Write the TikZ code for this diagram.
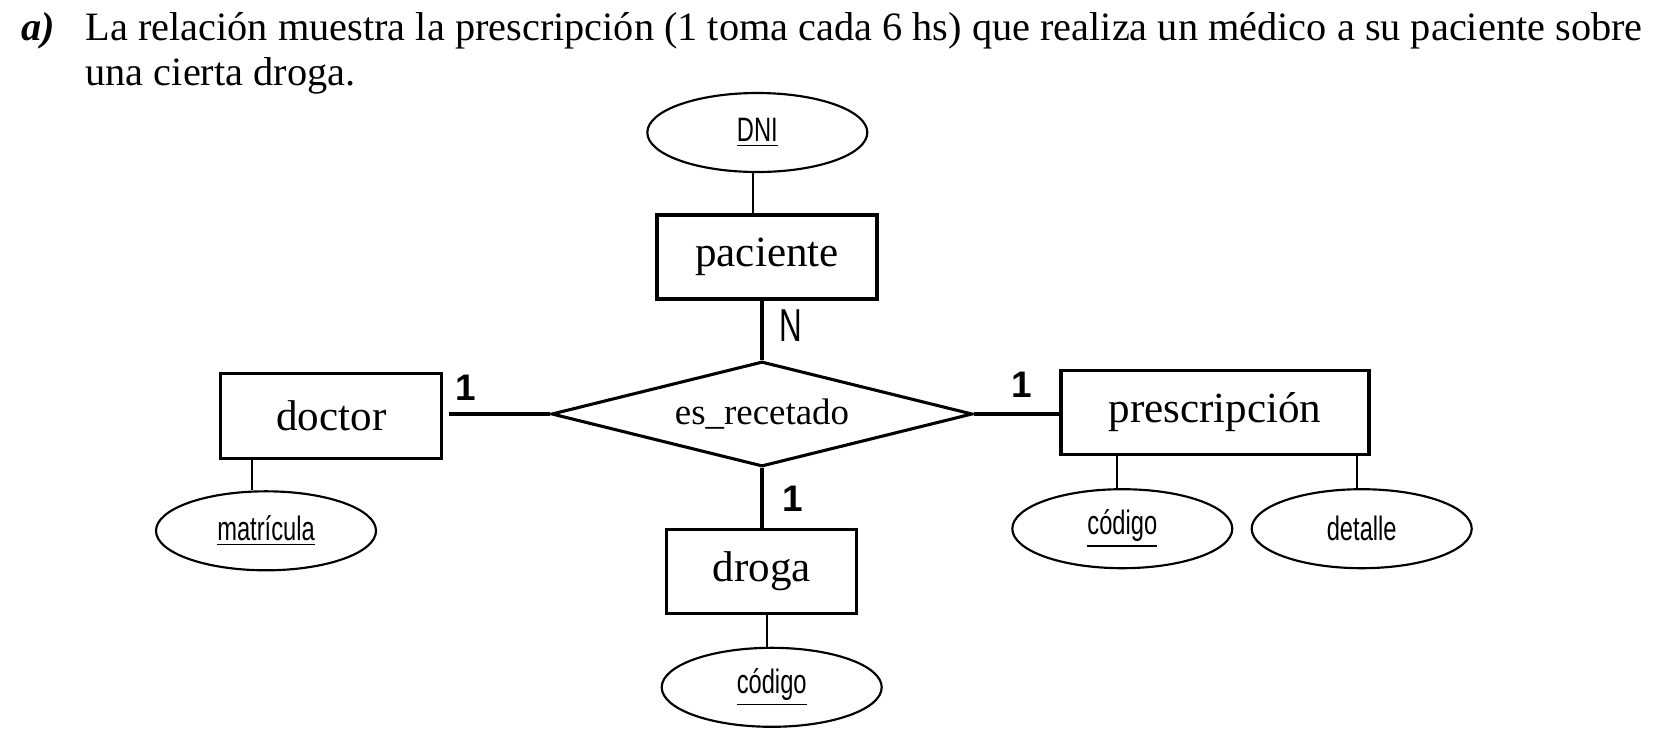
\documentclass[tikz,border=0pt]{standalone}
\usepackage{fontspec}
\usepackage{graphicx}
\setmainfont{Liberation Serif}
\newfontfamily\arialf{Liberation Sans}
\usetikzlibrary{shapes.geometric,calc}
\newdimen\pxu
\pxu=0.325pt
\newcommand\attrtxt[1]{\scalebox{0.7}[1]{#1}}
\begin{document}
\begin{tikzpicture}[x=0.325pt,y=-0.325pt,
  entity/.style={draw,line width=1pt,rectangle,inner sep=0pt,minimum height=84\pxu,font=\fontsize{14}{16}\selectfont},
  attr/.style={draw,line width=0.7pt,ellipse,inner sep=0pt,minimum width=220\pxu,minimum height=79\pxu,font=\arialf\fontsize{11}{13}\selectfont},
  relbox/.style={draw,line width=1pt,diamond,aspect=4,inner sep=0pt,minimum width=421\pxu,minimum height=105\pxu,font=\fontsize{12}{14}\selectfont},
  card/.style={inner sep=0pt,font=\arialf\bfseries\fontsize{12}{14}\selectfont},
  titletxt/.style={anchor=base west,inner sep=0pt,font=\fontsize{13.1}{15}\selectfont},
  rline/.style={line width=1pt},
  aline/.style={line width=0.65pt}]
\useasboundingbox[fill=white] (0,0) rectangle (1669,748);

% title
\node[titletxt,font=\bfseries\itshape\fontsize{13.1}{15}\selectfont] (lbl) at (21,41) {a)};
\node[titletxt] (t1) at (85,41) {La relación muestra la prescripción (1 toma cada 6 hs) que realiza un médico a su paciente sobre};
\node[titletxt] (t2) at (85,85) {una cierta droga.};

% entities
\node[entity,minimum width=220\pxu] (pac) at (767,257) {paciente};
\node[entity,minimum width=221\pxu,minimum height=85\pxu] (doc) at (331.4,415.8) {doctor};
\node[entity,minimum width=308\pxu] (pre) at (1215,412.2) {prescripción};
\node[entity,minimum width=190\pxu] (dro) at (761.7,571.3) {droga};

% relationship
\node[relbox] (r) at (762,414) {es\_recetado};

% attributes
\node[attr] (dni) at (757.3,132.5) {\attrtxt{\underline{DNI}}};
\node[attr] (mat) at (266,530.8) {\attrtxt{\underline{matrícula}}};
\node[attr] (cod1) at (1122.3,528.7) {\attrtxt{\underline{código}}};
\node[attr] (det) at (1361.7,528.7) {\attrtxt{detalle}};
\node[attr] (cod2) at (771.7,687.3) {\attrtxt{\underline{código}}};

% relationship connectors
\draw[rline] (r.north) -- (r.north |- pac.south);
\draw[rline] (r.south) -- (r.south |- dro.north);
\draw[rline,shorten >=6\pxu] (r.west) -- (r.west -| doc.east);
\draw[rline] (r.east) -- (r.east -| pre.west);

% attribute connectors
\path ($(dni.south)+(-4,0)$) coordinate (p1);
\draw[aline] (p1) -- (p1 |- pac.north);
\path ($(mat.north)+(-14,0)$) coordinate (p2);
\draw[aline] (p2) -- (p2 |- doc.south);
\path ($(cod1.north)+(-5,0)$) coordinate (p3);
\draw[aline] (p3) -- (p3 |- pre.south);
\path ($(det.north)+(-5,0)$) coordinate (p4);
\draw[aline] (p4) -- (p4 |- pre.south);
\path ($(cod2.north)+(-5,0)$) coordinate (p5);
\draw[aline] (p5) -- (p5 |- dro.south);

% cardinalities
\node[card] (c1) at (466,388) {1};
\node[card] (c2) at (1022,385) {1};
\node[card] (c3) at (792.5,498.5) {1};
\node[inner sep=0pt,font=\arialf\fontsize{15}{17}\selectfont] (cn) at (791,326) {\scalebox{0.68}[1]{N}};
\end{tikzpicture}
\end{document}
